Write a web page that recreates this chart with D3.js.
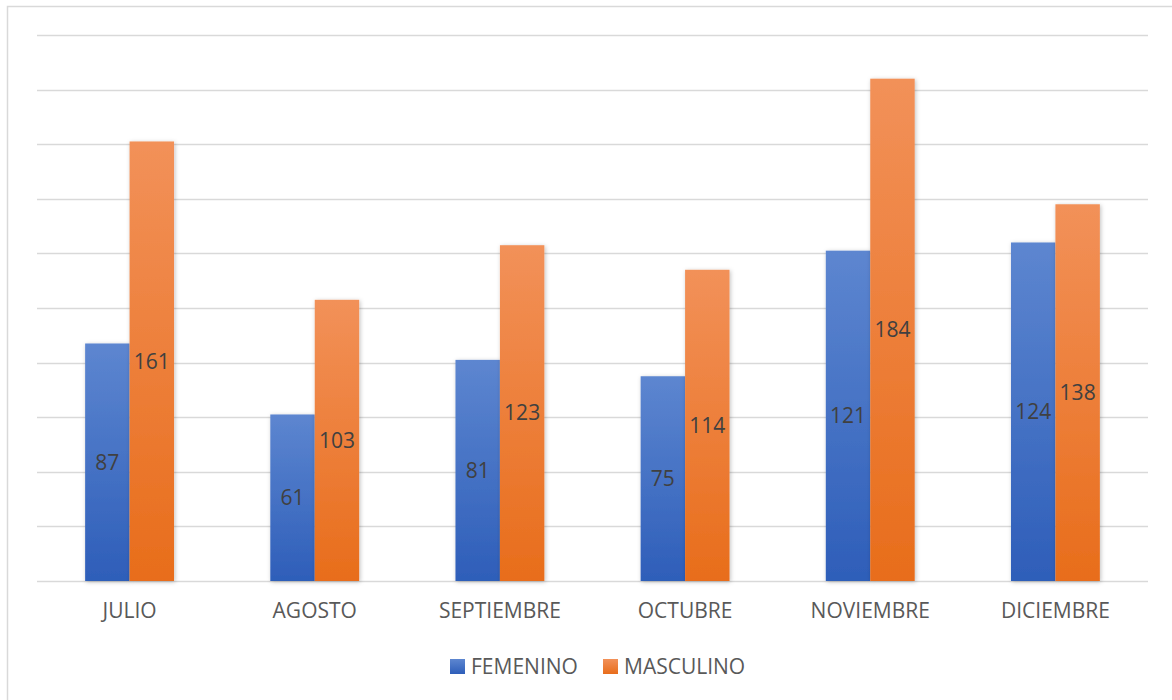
<!DOCTYPE html>
<html>
<head>
<meta charset="utf-8">
<script src="https://cdn.jsdelivr.net/npm/d3@7"></script>
<style>
  body { margin: 0; background: #fff; }
  svg { font-family: "Open Sans", sans-serif; }
</style>
</head>
<body>
<div id="chart"></div>
<script>
var months = ["JULIO", "AGOSTO", "SEPTIEMBRE", "OCTUBRE", "NOVIEMBRE", "DICIEMBRE"];
var femenino = [87, 61, 81, 75, 121, 124];
var masculino = [161, 103, 123, 114, 184, 138];
var seriesNames = ["FEMENINO", "MASCULINO"];
var gridTicks = [0, 20, 40, 60, 80, 100, 120, 140, 160, 180, 200];

var width = 1172, height = 700;
var plot = {left: 37, right: 1148, top: 35, bottom: 581};

var svg = d3.select("#chart").append("svg")
    .attr("width", width)
    .attr("height", height);

var defs = svg.append("defs");
function grad(id, top, bottom) {
    var g = defs.append("linearGradient").attr("id", id)
        .attr("x1", 0).attr("y1", 0).attr("x2", 0).attr("y2", 1);
    g.append("stop").attr("offset", "0%").attr("stop-color", top);
    g.append("stop").attr("offset", "100%").attr("stop-color", bottom);
}
grad("gBlue", "#5d86d0", "#2e5eb9");
grad("gOrange", "#f29159", "#e86d1b");
var shadow = defs.append("filter").attr("id", "shadow")
    .attr("x", "-20%").attr("y", "-5%").attr("width", "140%").attr("height", "110%");
shadow.append("feDropShadow").attr("dx", 1).attr("dy", 1)
    .attr("stdDeviation", 2).attr("flood-color", "#000").attr("flood-opacity", 0.25);

// outer frame
svg.append("rect")
    .attr("x", 7.5).attr("y", 6.5)
    .attr("width", width).attr("height", height)
    .attr("fill", "none").attr("stroke", "#d9d9d9").attr("stroke-width", 1.5);

var x = d3.scaleBand().domain(months).range([plot.left, plot.right]).paddingInner(0.52).paddingOuter(0.26);
var xs = d3.scaleBand().domain(seriesNames).range([0, x.bandwidth()]);
var y = d3.scaleLinear().domain([0, 200]).range([plot.bottom, plot.top]);

// gridlines
svg.append("g").selectAll("line")
    .data(gridTicks)
    .enter().append("line")
    .attr("x1", plot.left).attr("x2", plot.right)
    .attr("y1", function(d) { return Math.round(y(d)) + 0.5; })
    .attr("y2", function(d) { return Math.round(y(d)) + 0.5; })
    .attr("stroke", "#d9d9d9")
    .attr("stroke-width", 1.5);

var rows = months.map(function(m, i) {
    return [
        {month: m, key: "FEMENINO", value: femenino[i], fill: "url(#gBlue)"},
        {month: m, key: "MASCULINO", value: masculino[i], fill: "url(#gOrange)"}
    ];
});

var groups = svg.append("g").selectAll(".grp")
    .data(rows)
    .enter().append("g")
    .attr("class", "grp")
    .attr("transform", function(d) { return "translate(" + x(d[0].month) + ",0)"; });

groups.selectAll("rect")
    .data(function(d) { return d; })
    .enter().append("rect")
    .attr("x", function(d) { return xs(d.key); })
    .attr("width", xs.bandwidth())
    .attr("y", function(d) { return y(d.value); })
    .attr("height", function(d) { return y(0) - y(d.value); })
    .attr("fill", function(d) { return d.fill; })
    .attr("filter", "url(#shadow)");

groups.selectAll("text")
    .data(function(d) { return d; })
    .enter().append("text")
    .attr("x", function(d) { return xs(d.key) + xs.bandwidth() / 2; })
    .attr("y", function(d) { return (y(d.value) + y(0)) / 2; })
    .attr("dy", "0.35em")
    .attr("text-anchor", "middle")
    .attr("font-size", 21)
    .attr("fill", "#404040")
    .text(function(d) { return d.value; });

// x axis labels
var xAxis = d3.axisBottom(x).tickSize(0).tickPadding(22);
var gx = svg.append("g")
    .attr("transform", "translate(0," + plot.bottom + ")")
    .call(xAxis)
    .attr("font-family", null)
    .attr("font-size", null);
gx.select(".domain").remove();
gx.selectAll("text")
    .attr("font-size", 21)
    .attr("fill", "#595959");

// legend
var legendData = [
    {name: "FEMENINO", fill: "url(#gBlue)", x: 450},
    {name: "MASCULINO", fill: "url(#gOrange)", x: 603}
];
var legend = svg.append("g").selectAll(".legend")
    .data(legendData)
    .enter().append("g")
    .attr("class", "legend")
    .attr("transform", function(d) { return "translate(" + d.x + ",659)"; });
legend.append("rect")
    .attr("width", 15).attr("height", 15)
    .attr("fill", function(d) { return d.fill; });
legend.append("text")
    .attr("x", 21).attr("y", 7.5)
    .attr("dy", "0.35em")
    .attr("font-size", 21)
    .attr("fill", "#595959")
    .text(function(d) { return d.name; });
</script>
</body>
</html>
